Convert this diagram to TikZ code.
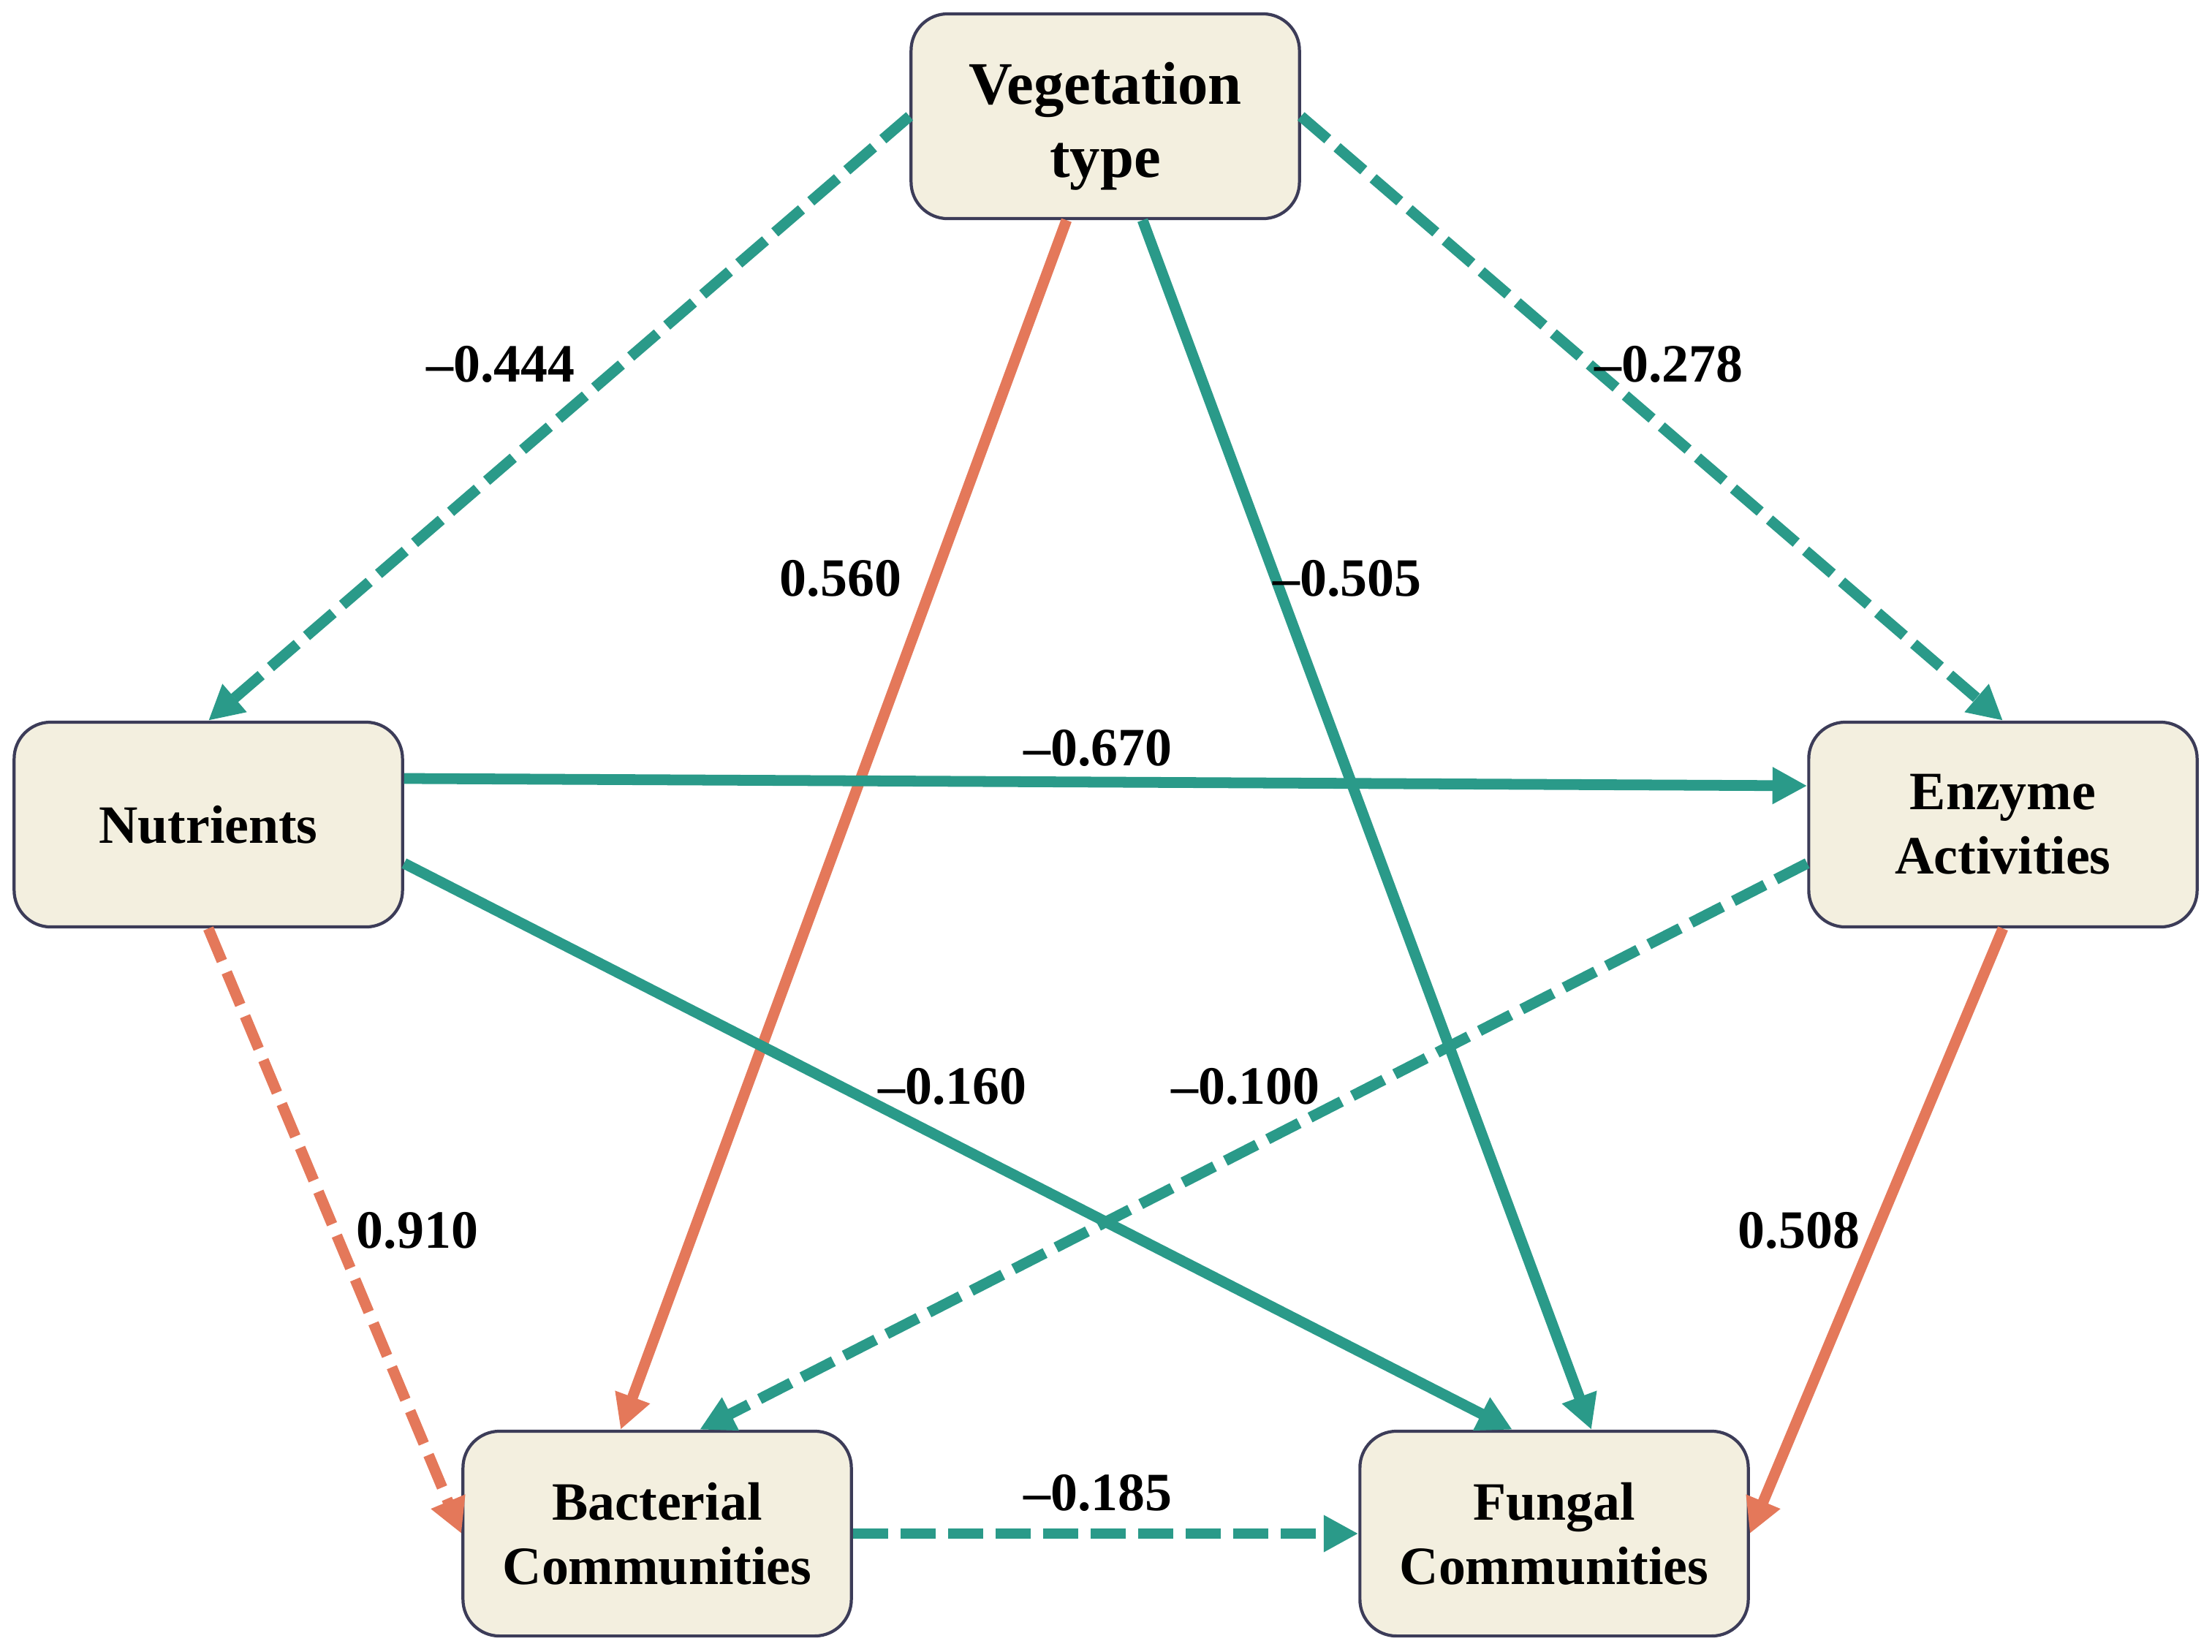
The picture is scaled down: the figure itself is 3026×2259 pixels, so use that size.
\documentclass[tikz,border=0pt]{standalone}
\usepackage{fontspec}
\setmainfont{Liberation Serif}
\usetikzlibrary{arrows.meta,calc}
\definecolor{tealc}{HTML}{2A9A89}
\definecolor{orangec}{HTML}{E4785A}
\definecolor{boxfill}{HTML}{F3EFDF}
\definecolor{boxline}{HTML}{3C3C58}
\tikzset{
  varbox/.style={draw=boxline, line width=1.2pt, fill=boxfill, rounded corners=0.5cm,
    minimum width=5.31cm, minimum height=2.8cm, align=center, inner sep=0pt,
    font=\fontsize{21}{25}\selectfont\bfseries},
  link/.style={line width=4.2pt, -{Triangle[length=13.5pt,width=13.5pt]}},
  dashlink/.style={link, dash pattern=on 13.7pt off 4.8pt},
  tealline/.style={draw=tealc},
  orangeline/.style={draw=orangec},
  coef/.style={font=\fontsize{21}{25}\selectfont\bfseries, inner sep=0pt}
}
\begin{document}
\begin{tikzpicture}[x=0.01cm, y=-0.01cm]
\useasboundingbox[fill=white] (0,0) rectangle (3026,2259);

\node[varbox, font=\fontsize{23.5}{28.5}\selectfont\bfseries] (veg) at (1512,159) {\rule{0pt}{24pt}Vegetation\\type};
\node[varbox] (nut) at (285,1128) {Nutrients};
\node[varbox] (enz) at (2740,1128) {Enzyme\\Activities};
\node[varbox] (bac) at (899,2098) {Bacterial\\Communities};
\node[varbox] (fun) at (2126,2098) {Fungal\\Communities};

\draw[dashlink, tealline] (veg.west) -- (nut.north);
\draw[dashlink, tealline] (veg.east) -- (enz.north);
\draw[link, orangeline] ([xshift=-0.53cm]veg.south) -- ([xshift=-0.50cm]bac.north);
\draw[link, tealline] ([xshift=0.51cm]veg.south) -- ([xshift=0.51cm]fun.north);
\draw[link, tealline] ([yshift=0.63cm]nut.east) -- ([yshift=0.53cm]enz.west);
\draw[link, tealline] ([yshift=-0.53cm]nut.east) -- ([xshift=-0.57cm]fun.north);
\draw[dashlink, orangeline] (nut.south) -- (bac.west);
\draw[dashlink, tealline] ([yshift=-0.53cm]enz.west) -- ([xshift=0.58cm]bac.north);
\draw[link, orangeline] (enz.south) -- (fun.east);
\draw[dashlink, tealline] (bac.east) -- (fun.west);

\node[coef] (c1) at (685,498) {–0.444};
\node[coef] (c2) at (2283,498) {–0.278};
\node[coef] (c3) at (1150,791) {0.560};
\node[coef] (c4) at (1843,791) {–0.505};
\node[coef] (c5) at (1502,1023) {–0.670};
\node[coef] (c6) at (1303,1486) {–0.160};
\node[coef] (c7) at (1704,1486) {–0.100};
\node[coef] (c8) at (571,1683) {0.910};
\node[coef] (c9) at (2461,1683) {0.508};
\node[coef] (c10) at (1502,2042) {–0.185};
\end{tikzpicture}
\end{document}
